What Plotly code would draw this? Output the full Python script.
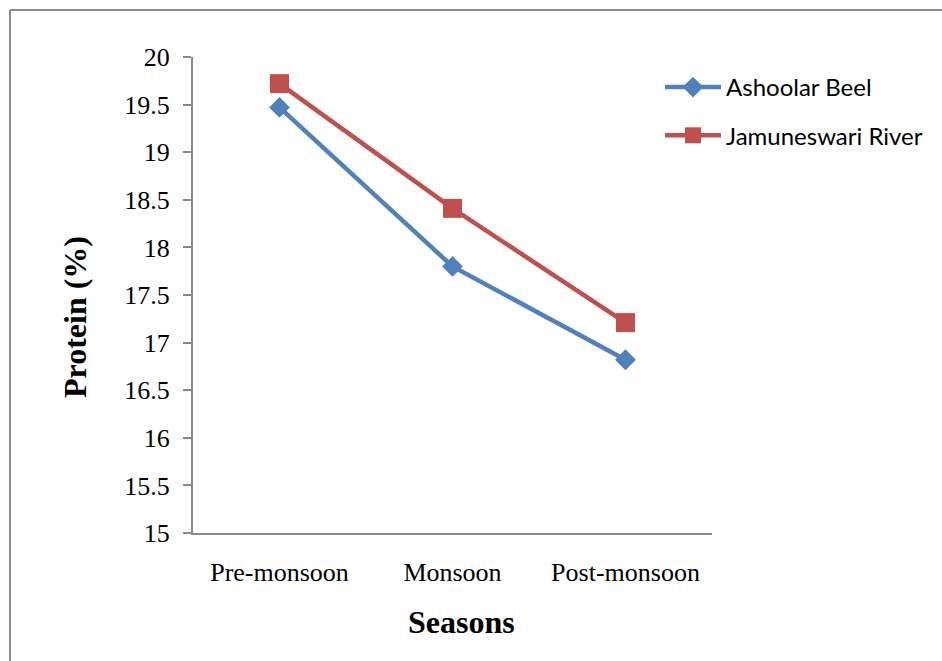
import plotly.graph_objects as go

seasons = ["Pre-monsoon", "Monsoon", "Post-monsoon"]
ashoolar_beel = [19.47, 17.80, 16.82]
jamuneswari_river = [19.72, 18.41, 17.21]
y_ticks = [15, 15.5, 16, 16.5, 17, 17.5, 18, 18.5, 19, 19.5, 20]

BLUE = "#4F81BD"
RED = "#C0504D"
AXIS = "#888888"

W, H = 942, 661
L, R, T, B = 193, 230, 57, 128
pw, ph = W - L - R, H - T - B

fig = go.Figure()
fig.add_trace(go.Scatter(
    x=seasons, y=ashoolar_beel, name="Ashoolar Beel", mode="lines+markers",
    line=dict(color=BLUE, width=4.5),
    marker=dict(symbol="diamond", size=16, color=BLUE),
    legendgroup="a",
))
fig.add_trace(go.Scatter(
    x=seasons, y=jamuneswari_river, name="Jamuneswari River", mode="lines+markers",
    line=dict(color=RED, width=4.5),
    marker=dict(symbol="square", size=19, color=RED),
    legendgroup="b",
))

# outer frame: left and top edges only are visible on the page
fx = (10 - L) / pw
fy = 1 + (T - 10) / ph
for x0, y0, x1, y1 in [(fx, fy, fx, -1), (fx, fy, 2, fy)]:
    fig.add_shape(type="line", xref="paper", yref="paper",
                  x0=x0, y0=y0, x1=x1, y1=y1,
                  line=dict(color="#8c8c8c", width=2))

# axis titles
fig.add_annotation(text="<b>Seasons</b>", xref="paper", yref="paper",
                   x=(461 - L) / pw, y=-(622 - (T + ph)) / ph,
                   xanchor="center", yanchor="middle", showarrow=False,
                   font=dict(family="Liberation Serif", size=32, color="black"))
fig.add_annotation(text="<b>Protein (%)</b>", xref="paper", yref="paper",
                   x=(75 - L) / pw, y=1 - (317 - T) / ph, textangle=-90,
                   xanchor="center", yanchor="middle", showarrow=False,
                   font=dict(family="Liberation Serif", size=32, color="black"))

fig.update_layout(
    width=W, height=H,
    margin=dict(l=L, r=R, t=T, b=B),
    paper_bgcolor="white", plot_bgcolor="white",
    font=dict(family="Liberation Serif", color="black", size=26),
    showlegend=True,
    legend=dict(
        x=(660 - L) / pw, y=1 - (65 - T) / ph, xanchor="left", yanchor="top",
        font=dict(family="Lato", size=24, color="black"),
        tracegroupgap=14, itemwidth=56, bgcolor="rgba(0,0,0,0)",
    ),
    xaxis=dict(
        type="category", range=[-0.5, 2.5],
        showline=True, linecolor=AXIS, linewidth=2,
        showgrid=False, zeroline=False, ticks="",
        ticklabelstandoff=15,
        tickfont=dict(family="Liberation Serif", size=26),
    ),
    yaxis=dict(
        range=[15, 20], tickvals=y_ticks,
        ticktext=[f"{v:g}" for v in y_ticks],
        showline=True, linecolor=AXIS, linewidth=2,
        showgrid=False, zeroline=False,
        ticks="outside", ticklen=8, tickwidth=2, tickcolor=AXIS,
        ticklabelstandoff=8,
        tickfont=dict(family="Liberation Serif", size=26),
    ),
)

fig.write_html("out.html")
